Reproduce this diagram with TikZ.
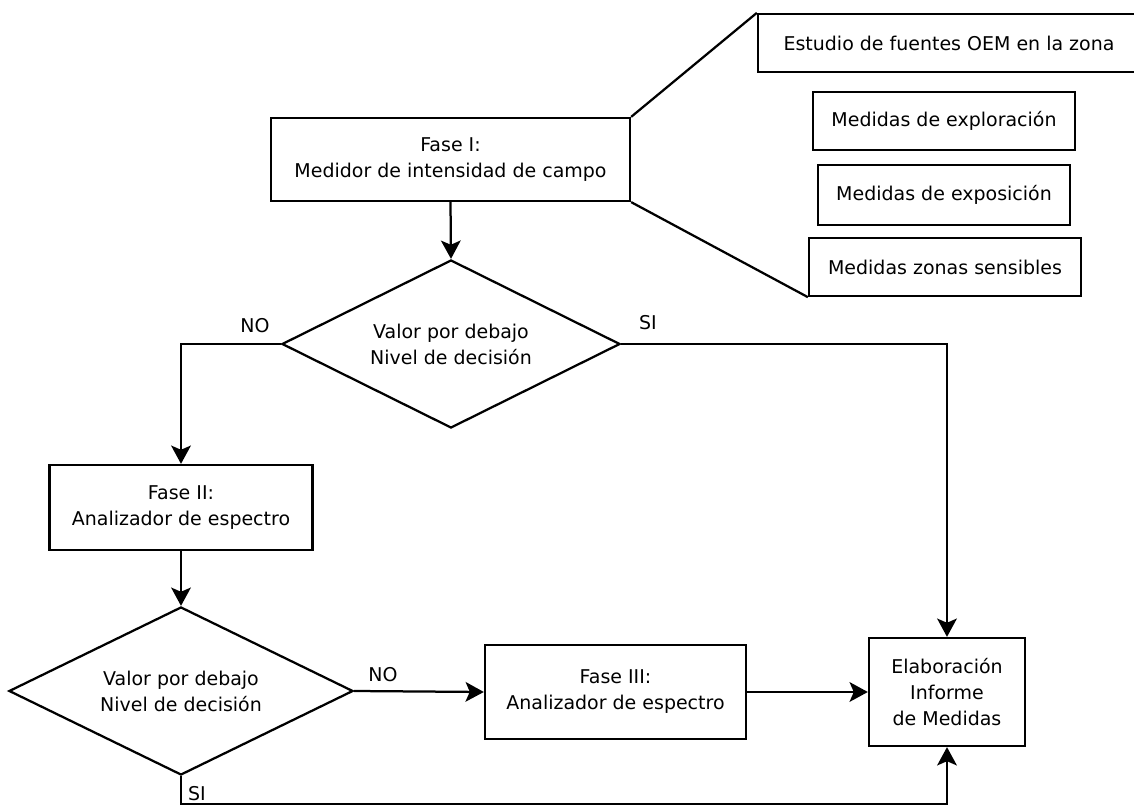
\documentclass[tikz,border=0pt]{standalone}
\usepackage{fontspec}
\setmainfont{DejaVu Sans}
\usetikzlibrary{shapes.geometric,arrows.meta}

\begin{document}
\begin{tikzpicture}[x=0.025cm, y=-0.025cm, line width=1.6pt,
  every node/.style={font=\fontsize{13.5}{18.5}\selectfont},
  caja/.style={draw, rectangle, align=center, inner sep=0pt},
  decision/.style={draw, diamond, aspect=2, align=center, inner sep=0pt, minimum width=8.45cm, minimum height=4.2cm},
  flecha/.style={-{Stealth[length=13pt,width=14pt,inset=3pt]}}]
\useasboundingbox (0,0) rectangle (1134,806);
\node[caja, minimum width=8.975cm, minimum height=2.075cm] (fasei) at (450.5,159.5) {Fase I:\\Medidor de intensidad de campo};
\node[caja, minimum width=9.55cm, minimum height=1.45cm] (estudio) at (949,43) {Estudio de fuentes OEM en la zona};
\node[caja, minimum width=6.55cm, minimum height=1.45cm] (exploracion) at (944,121) {Medidas de exploración};
\node[caja, minimum width=6.3cm, minimum height=1.5cm] (exposicion) at (944,195) {Medidas de exposición};
\node[caja, minimum width=6.8cm, minimum height=1.45cm] (sensibles) at (945,267) {Medidas zonas sensibles};
\node[decision] (dec1) at (451,344) {Valor por debajo\\Nivel de decisión};
\node[caja, minimum width=6.575cm, minimum height=2.125cm] (faseii) at (181,507.5) {Fase II:\\Analizador de espectro};
\node[decision, minimum width=8.6cm] (dec2) at (181,691) {Valor por debajo\\Nivel de decisión};
\node[caja, minimum width=6.525cm, minimum height=2.35cm] (faseiii) at (615.5,692) {Fase III:\\Analizador de espectro};
\node[caja, minimum width=3.9cm, minimum height=2.7cm] (informe) at (947,692) {Elaboración\\Informe\\de Medidas};
\coordinate (abajo) at (181,804);
\draw (fasei.north east) -- (estudio.north west);
\draw (fasei.south east) -- (sensibles.south west);
\draw[flecha] (fasei.south) -- (dec1.north);
\draw[flecha] (dec1.west) -| (faseii.north);
\draw[flecha] (dec1.east) -| (informe.north);
\draw[flecha] (faseii.south) -- (dec2.north);
\draw[flecha] (dec2.east) -- (faseiii.west);
\draw[flecha] (faseiii.east) -- (informe.west);
\draw[flecha] (dec2.south) -- (abajo) -| (informe.south);
\node (no1) at (255,326) {NO};
\node (si1) at (648,323) {SI};
\node (no2) at (383,675) {NO};
\node (si2) at (197,794) {SI};
\end{tikzpicture}
\end{document}
